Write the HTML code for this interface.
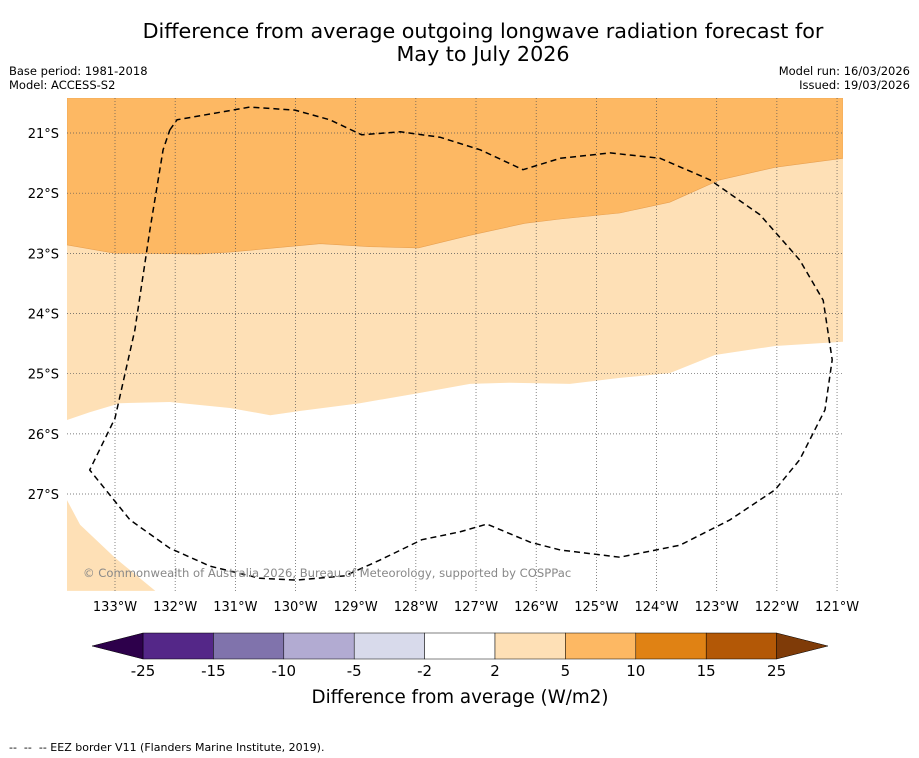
<!DOCTYPE html>
<html><head><meta charset="utf-8"><style>
body{margin:0;background:#fff;width:919px;height:758px;overflow:hidden;font-family:"DejaVu Sans","Liberation Sans",sans-serif;}
svg{position:absolute;left:0;top:0}
text{white-space:pre}
</style></head><body>
<svg id="chart" width="919" height="758">
<text x="483" y="38" text-anchor="middle" font-size="20.7">Difference from average outgoing longwave radiation forecast for</text>
<text x="483" y="61" text-anchor="middle" font-size="20.7">May to July 2026</text>
<text x="9" y="75" font-size="11.5">Base period: 1981-2018</text>
<text x="9" y="89" font-size="11.5">Model: ACCESS-S2</text>
<text x="910" y="75" font-size="11.5" text-anchor="end">Model run: 16/03/2026</text>
<text x="910" y="89" font-size="11.5" text-anchor="end">Issued: 19/03/2026</text>
<g id="map"></g>
<g id="cbar"></g>
<text x="460" y="703" text-anchor="middle" font-size="18.3">Difference from average (W/m2)</text>
<text x="9" y="751" font-size="11" xml:space="preserve">--  --  -- EEZ border V11 (Flanders Marine Institute, 2019).</text>
</svg>
<script>
const lonTicks=[133,132,131,130,129,128,127,126,125,124,123,122,121];
const latTicks=[21,22,23,24,25,26,27];
const bound10Lon=[133.80,133.00,131.59,131.09,129.59,128.76,127.96,127.10,126.19,125.60,124.61,123.78,122.95,122.03,120.90];
const bound10Lat=[22.86,23.00,23.01,22.98,22.84,22.89,22.91,22.70,22.50,22.43,22.33,22.15,21.78,21.57,21.42];
const bound5Lon=[133.80,133.42,132.92,132.09,131.09,130.42,129.93,128.93,127.93,127.10,126.44,125.44,124.61,123.78,123.03,122.03,120.90];
const bound5Lat=[25.77,25.64,25.49,25.47,25.57,25.69,25.62,25.49,25.32,25.17,25.15,25.17,25.07,24.99,24.69,24.54,24.47];
const patchLon=[133.80,133.58,133.00,132.33,133.80];
const patchLat=[27.10,27.51,28.06,28.61,28.61];
const eezLon=[132.09,131.97,130.76,130.01,129.43,128.90,128.26,127.60,126.93,126.22,125.60,124.77,123.94,123.11,122.28,121.62,121.23,121.08,121.20,121.62,122.03,122.78,123.61,124.61,125.60,126.10,126.82,127.27,127.90,128.60,129.18,129.99,130.59,131.42,132.09,132.75,133.42,133.00,132.67,132.42,132.20,132.09];
const eezLat=[20.95,20.78,20.57,20.62,20.78,21.03,20.98,21.07,21.28,21.61,21.42,21.33,21.42,21.78,22.36,23.11,23.78,24.77,25.60,26.43,26.93,27.43,27.85,28.05,27.93,27.80,27.50,27.63,27.76,28.10,28.36,28.43,28.40,28.20,27.90,27.43,26.60,25.74,24.27,22.61,21.28,20.95];
const cbLevels=["-25","-15","-10","-5","-2","2","5","10","15","25"];
const cbColors=["#542788","#8073ac","#b2abd2","#d8daeb","#ffffff","#fee0b6","#fdb863","#e08214","#b35806"];
const NS="http://www.w3.org/2000/svg";
const L=67,T=98,R=843,B=591,k=60.17;
const X=lon=>115+(133-lon)*k, Y=lat=>133+(lat-21)*k;
function mk(tag,attrs,parent){const e=document.createElementNS(NS,tag);for(const a in attrs)e.setAttribute(a,attrs[a]);parent.appendChild(e);return e;}
const map=document.getElementById('map');
const defs=mk('defs',{},map);const cp=mk('clipPath',{id:'clip'},defs);mk('rect',{x:L,y:T,width:R-L,height:B-T},cp);
const g=mk('g',{'clip-path':'url(#clip)'},map);
let r=mk('rect',{x:L,y:T,width:R-L,height:B-T,fill:'#ffffff'},g);

const pts=(lo,la)=>lo.map((v,i)=>X(v).toFixed(1)+','+Y(la[i]).toFixed(1));
let p=mk('polygon',{points:[...pts(bound5Lon,bound5Lat),R+','+T,L+','+T].join(' '),fill:'#fee0b6'},g);

p=mk('polygon',{points:[...pts(bound10Lon,bound10Lat),R+','+T,L+','+T].join(' '),fill:'#fdb863',stroke:'#e8a050','stroke-width':0.6},g);

p=mk('polygon',{points:pts(patchLon,patchLat).join(' '),fill:'#fee0b6'},g);

lonTicks.forEach(v=>{const x=X(v);
 let l=mk('line',{x1:x,y1:T,x2:x,y2:B,stroke:'#555','stroke-width':0.7,'stroke-dasharray':'1,2'},g);
 
 let t=mk('text',{x:x,y:611,'text-anchor':'middle','font-size':13},map);t.textContent=v+'°W';
 });
latTicks.forEach(v=>{const y=Y(v);
 let l=mk('line',{x1:L,y1:y,x2:R,y2:y,stroke:'#555','stroke-width':0.7,'stroke-dasharray':'1,2'},g);
 
 let t=mk('text',{x:59,y:y+5,'text-anchor':'end','font-size':13},map);t.textContent=v+'°S';
 });
p=mk('polyline',{points:pts(eezLon,eezLat).join(' '),fill:'none',stroke:'#000','stroke-width':1.5,'stroke-dasharray':'6,4','stroke-linejoin':'round'},g);

let c=mk('text',{x:83,y:577,'font-size':11.6,fill:'#888'},map);c.textContent='© Commonwealth of Australia 2026, Bureau of Meteorology, supported by COSPPac';

const cb=document.getElementById('cbar');
const cx0=143,cw=70.4,cy=633,ch=26;
cbColors.forEach((col,i)=>{let b=mk('rect',{x:cx0+i*cw,y:cy,width:cw,height:ch,fill:col,stroke:'#000','stroke-width':0.5},cb);
 });
const xe=cx0+cbColors.length*cw;
let a=mk('polygon',{points:`${cx0},${cy} 92,${cy+ch/2} ${cx0},${cy+ch}`,fill:'#2d004b',stroke:'#000','stroke-width':0.5},cb);

a=mk('polygon',{points:`${xe},${cy} 828,${cy+ch/2} ${xe},${cy+ch}`,fill:'#7f3b08',stroke:'#000','stroke-width':0.5},cb);

cbLevels.forEach((v,i)=>{let t=mk('text',{x:cx0+i*cw,y:676,'text-anchor':'middle','font-size':15},cb);t.textContent=v;
 });
</script>
</body></html>
